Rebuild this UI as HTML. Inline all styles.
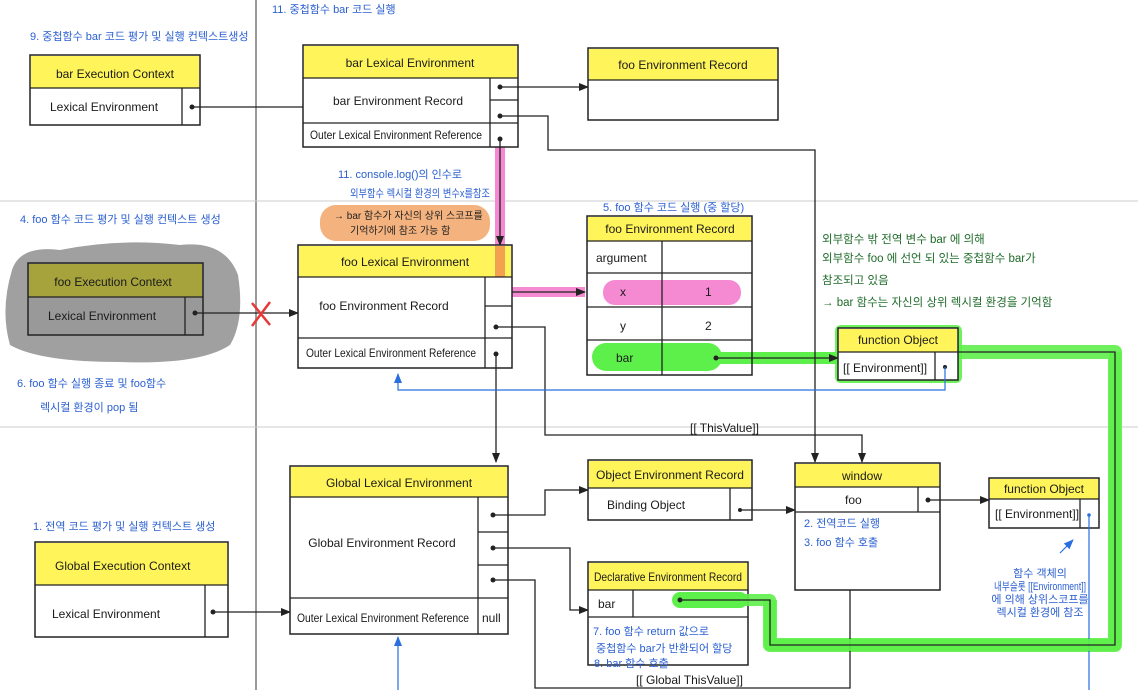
<!DOCTYPE html>
<html><head><meta charset="utf-8"><style>
html,body{margin:0;padding:0;background:#fff;width:1138px;height:690px;overflow:hidden}
svg{display:block}
text{font-family:"Liberation Sans","Noto Sans CJK KR",sans-serif;}
.b{fill:#1a1a1a;font-size:12px}
.bl{fill:#2a5fd0;font-size:11px}
.gr{fill:#1f6b2a;font-size:11.5px}
.box{fill:#fff;stroke:#222;stroke-width:1.5}
.hd{fill:#fff55a}
.ln{stroke:#222;stroke-width:1.3;fill:none}
.blu{stroke:#2a6fe0;stroke-width:1.2;fill:none}
</style></head><body>
<svg width="1138" height="690" viewBox="0 0 1138 690" xmlns="http://www.w3.org/2000/svg">
<defs>
<marker id="a" markerWidth="10" markerHeight="10" refX="9" refY="5" orient="auto" markerUnits="userSpaceOnUse"><path d="M0,1 L10,5 L0,9 z" fill="#222"/></marker>
<marker id="ab" markerWidth="10" markerHeight="10" refX="9" refY="5" orient="auto" markerUnits="userSpaceOnUse"><path d="M0,1 L10,5 L0,9 z" fill="#2a6fe0"/></marker>
</defs>
<line x1="256" y1="0" x2="256" y2="690" stroke="#999" stroke-width="2"/>
<line x1="0" y1="201" x2="1138" y2="201" stroke="#ccc" stroke-width="1"/>
<line x1="0" y1="427" x2="1138" y2="427" stroke="#ccc" stroke-width="1"/>
<line x1="815" y1="180" x2="815" y2="430" stroke="#444" stroke-width="1"/>

<path d="M958,352 H1115 V645 H770 V600" stroke="#5ef04a" stroke-width="14" fill="none" stroke-linejoin="round" opacity="0.9"/>
<rect x="835" y="325" width="127" height="58" rx="6" fill="#5ef04a" opacity="0.9"/>
<path d="M705,358 H838" stroke="#5ef04a" stroke-width="12"/>
<path d="M500,138 V292 H585" stroke="#f58ad2" stroke-width="10" fill="none"/>
<rect x="320" y="205" width="170" height="36" rx="16" fill="#f3b27e"/>
<path d="M12,270 Q20,245 60,250 Q120,238 180,245 Q225,240 238,275 Q245,320 230,345 Q200,365 120,362 Q40,362 10,345 Q0,310 12,270z" fill="#888" opacity="0.8"/>

<!-- bar Execution Context -->
<rect x="30" y="55" width="170" height="70" class="box"/>
<rect x="31" y="56" width="168" height="32" class="hd"/>
<line x1="30" y1="88" x2="200" y2="88" class="ln"/><line x1="182" y1="88" x2="182" y2="125" class="ln"/>
<text x="115" y="78" class="b" text-anchor="middle" font-size="13">bar Execution Context</text>
<text x="50" y="111" class="b">Lexical Environment</text>
<circle cx="192" cy="107" r="2.5" fill="#222"/>
<line x1="192" y1="107" x2="303" y2="107" class="ln"/>

<!-- bar Lexical Env -->
<rect x="303" y="45" width="215" height="102" class="box"/>
<rect x="304" y="46" width="213" height="32" class="hd"/>
<line x1="303" y1="78" x2="518" y2="78" class="ln"/><line x1="303" y1="123" x2="518" y2="123" class="ln"/>
<line x1="490" y1="78" x2="490" y2="147" class="ln"/><line x1="490" y1="100" x2="518" y2="100" class="ln"/>
<text x="410" y="67" class="b" text-anchor="middle">bar Lexical Environment</text>
<text x="398" y="105" class="b" text-anchor="middle">bar Environment Record</text>
<text x="310" y="139" class="b" font-size="10.5" textLength="172" lengthAdjust="spacingAndGlyphs">Outer Lexical Environment Reference</text>
<circle cx="500" cy="87" r="2.5" fill="#222"/><circle cx="500" cy="116" r="2.5" fill="#222"/><circle cx="500" cy="139" r="2.5" fill="#222"/>
<line x1="500" y1="87" x2="588" y2="87" class="ln" marker-end="url(#a)"/>
<path d="M500,116 H548 V150 H815 V462" class="ln" marker-end="url(#a)"/>
<path d="M500,139 V292 H585" class="ln" marker-end="url(#a)"/>
<line x1="500" y1="240" x2="500" y2="245" class="ln" marker-end="url(#a)"/>

<rect x="588" y="48" width="190" height="72" class="box"/>
<rect x="589" y="49" width="188" height="31" class="hd"/>
<line x1="588" y1="80" x2="778" y2="80" class="ln"/>
<text x="683" y="69" class="b" text-anchor="middle">foo Environment Record</text>

<text x="30" y="40" class="bl" font-size="12">9. 중첩함수 bar 코드 평가 및 실행 컨텍스트생성</text>
<text x="272" y="13" class="bl" font-size="9">11. 중첩함수 bar 코드 실행</text>
<text x="338" y="178" class="bl">11. console.log()의 인수로</text>
<text x="350" y="197" class="bl" font-size="10" textLength="140" lengthAdjust="spacingAndGlyphs">외부함수 렉시컬 환경의 변수x를참조</text>
<text x="334" y="219" fill="#222" font-size="10">→ bar 함수가 자신의 상위 스코프를</text>
<text x="350" y="234" fill="#222" font-size="10">기억하기에 참조 가능 함</text>

<!-- foo Execution Context -->
<rect x="28" y="263" width="175" height="72" fill="#999" stroke="#222" stroke-width="1.5"/>
<rect x="29" y="264" width="173" height="33" fill="#a6a33c"/>
<line x1="28" y1="297" x2="203" y2="297" class="ln"/><line x1="185" y1="297" x2="185" y2="335" class="ln"/>
<text x="113" y="286" class="b" text-anchor="middle">foo Execution Context</text>
<text x="48" y="320" class="b">Lexical Environment</text>
<circle cx="195" cy="313" r="2.5" fill="#222"/>
<line x1="195" y1="313" x2="298" y2="313" class="ln" marker-end="url(#a)"/>
<path d="M252,303 L270,325 M270,302 L252,326" stroke="#e53935" stroke-width="2.5" fill="none"/>
<text x="20" y="223" class="bl" font-size="12">4. foo 함수 코드 평가 및 실행 컨텍스트 생성</text>
<text x="17" y="387" class="bl" font-size="12">6. foo 함수 실행 종료 및 foo함수</text>
<text x="40" y="411" class="bl" font-size="12">렉시컬 환경이 pop 됨</text>

<!-- foo Lexical Env -->
<rect x="298" y="245" width="214" height="123" class="box"/>
<rect x="299" y="246" width="212" height="31" class="hd"/>
<rect x="495" y="246" width="10" height="31" fill="#f3a050"/>
<line x1="298" y1="277" x2="512" y2="277" class="ln"/><line x1="298" y1="338" x2="512" y2="338" class="ln"/>
<line x1="485" y1="277" x2="485" y2="368" class="ln"/><line x1="485" y1="306" x2="512" y2="306" class="ln"/>
<text x="405" y="266" class="b" text-anchor="middle">foo Lexical Environment</text>
<text x="384" y="310" class="b" text-anchor="middle">foo Environment Record</text>
<text x="306" y="357" class="b" font-size="10.5" textLength="170" lengthAdjust="spacingAndGlyphs">Outer Lexical Environment Reference</text>
<circle cx="496" cy="327" r="2.5" fill="#222"/><circle cx="496" cy="354" r="2.5" fill="#222"/>
<path d="M496,327 H545 V435 H862 V462" class="ln" marker-end="url(#a)"/>
<path d="M496,354 V462" class="ln" marker-end="url(#a)"/>
<text x="690" y="432" class="b" font-size="11">[[ ThisValue]]</text>

<!-- foo env record table -->
<text x="603" y="211" class="bl" font-size="12">5. foo 함수 코드 실행 (중 할당)</text>
<rect x="588" y="217" width="163" height="24" class="hd"/>
<rect x="603" y="280" width="138" height="25" rx="12" fill="#f58ad2"/>
<rect x="592" y="343" width="130" height="28" rx="14" fill="#5ef04a"/>
<path d="M587,241 H752 M587,273 H752 M587,307 H752 M587,340 H752 M662,241 V375" class="ln"/>
<rect x="587" y="216" width="165" height="159" fill="none" stroke="#222" stroke-width="1.5"/>
<text x="670" y="233" class="b" text-anchor="middle" font-size="10">foo Environment Record</text>
<text x="596" y="262" class="b" font-size="10">argument</text>
<text x="620" y="296" class="b">x</text><text x="705" y="296" class="b">1</text>
<text x="620" y="330" class="b">y</text><text x="705" y="330" class="b">2</text>
<text x="616" y="362" class="b" font-size="11">bar</text>
<circle cx="716" cy="358" r="2.5" fill="#222"/>
<line x1="716" y1="358" x2="838" y2="358" class="ln" marker-end="url(#a)"/>

<!-- function Object green -->
<rect x="838" y="328" width="120" height="52" class="box"/>
<rect x="839" y="329" width="118" height="23" class="hd"/>
<line x1="838" y1="352" x2="958" y2="352" class="ln"/><line x1="935" y1="352" x2="935" y2="380" class="ln"/>
<text x="898" y="344" class="b" text-anchor="middle" font-size="9">function Object</text>
<text x="843" y="372" class="b" font-size="10">[[ Environment]]</text>
<circle cx="945" cy="367" r="2" fill="#222"/>
<path d="M945,367 V390 H398 V374" class="blu" marker-end="url(#ab)"/>

<text x="822" y="243" class="gr">외부함수 밖 전역 변수 bar 에 의해</text>
<text x="822" y="262" class="gr">외부함수 foo 에 선언 되 있는 중첩함수 bar가</text>
<text x="822" y="284" class="gr">참조되고 있음</text>
<text x="822" y="306" class="gr">→ bar 함수는 자신의 상위 렉시컬 환경을 기억함</text>

<!-- Global Execution Context -->
<text x="33" y="530" class="bl" font-size="12">1. 전역 코드 평가 및 실행 컨텍스트 생성</text>
<rect x="35" y="542" width="193" height="95" class="box"/>
<rect x="36" y="543" width="191" height="42" class="hd"/>
<line x1="35" y1="585" x2="228" y2="585" class="ln"/><line x1="205" y1="585" x2="205" y2="637" class="ln"/>
<text x="55" y="570" class="b">Global Execution Context</text>
<text x="52" y="618" class="b">Lexical Environment</text>
<circle cx="213" cy="612" r="2.5" fill="#222"/>
<line x1="213" y1="612" x2="290" y2="612" class="ln" marker-end="url(#a)"/>

<!-- Global Lexical Env -->
<rect x="290" y="466" width="218" height="168" class="box"/>
<rect x="291" y="467" width="216" height="30" class="hd"/>
<line x1="290" y1="497" x2="508" y2="497" class="ln"/><line x1="290" y1="598" x2="508" y2="598" class="ln"/>
<line x1="478" y1="497" x2="478" y2="634" class="ln"/>
<line x1="478" y1="532" x2="508" y2="532" class="ln"/><line x1="478" y1="565" x2="508" y2="565" class="ln"/>
<text x="399" y="487" class="b" text-anchor="middle">Global Lexical Environment</text>
<text x="382" y="547" class="b" text-anchor="middle">Global Environment Record</text>
<text x="297" y="622" class="b" font-size="11" textLength="172" lengthAdjust="spacingAndGlyphs">Outer Lexical Environment Reference</text>
<text x="482" y="622" class="b" font-size="11">null</text>
<circle cx="493" cy="515" r="2.5" fill="#222"/><circle cx="493" cy="548" r="2.5" fill="#222"/><circle cx="493" cy="580" r="2.5" fill="#222"/>
<path d="M493,515 H545 V490 H588" class="ln" marker-end="url(#a)"/>
<path d="M493,548 H570 V610 H588" class="ln" marker-end="url(#a)"/>
<path d="M493,580 H535 V688 H850 V590" class="ln"/>
<line x1="398" y1="690" x2="398" y2="637" class="blu" marker-end="url(#ab)"/>

<!-- Object Environment Record -->
<rect x="588" y="460" width="164" height="60" class="box"/>
<rect x="589" y="461" width="162" height="27" class="hd"/>
<line x1="588" y1="488" x2="752" y2="488" class="ln"/><line x1="730" y1="488" x2="730" y2="520" class="ln"/>
<text x="596" y="479" class="b" font-size="10.5" textLength="148" lengthAdjust="spacingAndGlyphs">Object Environment Record</text>
<text x="607" y="509" class="b" font-size="11">Binding Object</text>
<circle cx="740" cy="510" r="2" fill="#222"/>
<path d="M740,510 H795" class="ln" marker-end="url(#a)"/>

<!-- window -->
<rect x="795" y="463" width="145" height="127" class="box"/>
<rect x="796" y="464" width="143" height="23" class="hd"/>
<line x1="795" y1="487" x2="940" y2="487" class="ln"/><line x1="795" y1="512" x2="940" y2="512" class="ln"/>
<line x1="918" y1="487" x2="918" y2="512" class="ln"/>
<text x="862" y="480" class="b" text-anchor="middle">window</text>
<text x="845" y="504" class="b">foo</text>
<text x="804" y="527" class="bl" font-size="10">2. 전역코드 실행</text>
<text x="804" y="546" class="bl" font-size="10">3. foo 함수 호출</text>
<circle cx="928" cy="500" r="2.5" fill="#222"/>
<path d="M928,500 H989" class="ln" marker-end="url(#a)"/>

<!-- function Object right -->
<rect x="989" y="478" width="110" height="50" class="box"/>
<rect x="990" y="479" width="108" height="20" class="hd"/>
<line x1="989" y1="499" x2="1099" y2="499" class="ln"/><line x1="1080" y1="499" x2="1080" y2="528" class="ln"/>
<text x="1044" y="493" class="b" text-anchor="middle" font-size="10">function Object</text>
<text x="995" y="518" class="b" font-size="10">[[ Environment]]</text>
<circle cx="1089" cy="515" r="1.8" fill="#2a6fe0"/>
<line x1="1089" y1="515" x2="1089" y2="690" class="blu"/>
<line x1="1060" y1="553" x2="1073" y2="540" class="blu" marker-end="url(#ab)"/>
<text x="1040" y="577" class="bl" font-size="8" text-anchor="middle">함수 객체의</text>
<text x="1040" y="590" class="bl" font-size="8" text-anchor="middle" textLength="92" lengthAdjust="spacingAndGlyphs">내부슬롯 [[Environment]]</text>
<text x="1040" y="603" class="bl" font-size="8" text-anchor="middle">에 의해 상위스코프를</text>
<text x="1040" y="616" class="bl" font-size="8" text-anchor="middle">렉시컬 환경에 참조</text>

<!-- Declarative Environment Record -->
<rect x="588" y="562" width="160" height="103" class="box"/>
<rect x="589" y="563" width="158" height="27" class="hd"/>
<path d="M680,600 H770 V645 H1115 V352" stroke="#5ef04a" stroke-width="12" fill="none" opacity="0.9" stroke-linejoin="round"/>
<rect x="672" y="592" width="76" height="16" rx="8" fill="#5ef04a"/>
<path d="M958,352 H1115 V645 H770 V600 H680" class="ln"/>
<circle cx="680" cy="600" r="2.5" fill="#222"/>
<line x1="588" y1="590" x2="748" y2="590" class="ln"/><line x1="588" y1="617" x2="748" y2="617" class="ln"/>
<line x1="633" y1="590" x2="633" y2="617" class="ln"/>
<text x="594" y="581" class="b" font-size="10.5" textLength="148" lengthAdjust="spacingAndGlyphs">Declarative Environment Record</text>
<text x="598" y="608" class="b" font-size="11">bar</text>
<text x="593" y="635" class="bl" font-size="10">7. foo 함수 return 값으로</text>
<text x="596" y="652" class="bl" font-size="10">중첩함수 bar가 반환되어 할당</text>
<text x="594" y="667" class="bl" font-size="10">8. bar 함수 호출</text>
<text x="636" y="684" class="b" font-size="10">[[ Global ThisValue]]</text>
</svg>
</body></html>
